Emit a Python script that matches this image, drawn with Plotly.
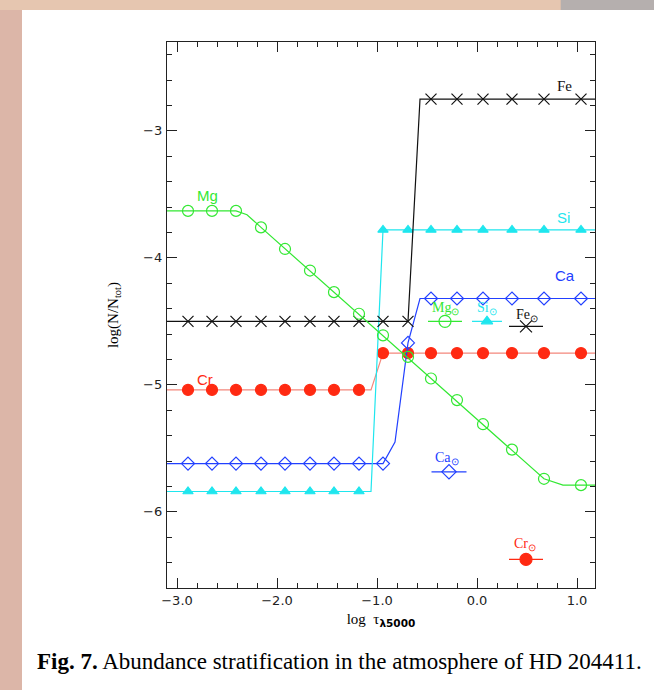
import plotly.graph_objects as go

# depth grid (log tau_5000) of plotted model points
tau = [-2.89, -2.65, -2.41, -2.16, -1.92, -1.67, -1.43, -1.18,
       -0.94, -0.69, -0.46, -0.20, 0.06, 0.35, 0.67, 1.04]

mg = [-3.63, -3.63, -3.63, -3.76, -3.93, -4.10, -4.27, -4.44,
      -4.61, -4.78, -4.95, -5.12, -5.31, -5.51, -5.74, -5.79]
fe = [-4.50, -4.50, -4.50, -4.50, -4.50, -4.50, -4.50, -4.50,
      -4.50, -4.50, -2.75, -2.75, -2.75, -2.75, -2.75, -2.75]
si = [-5.84, -5.84, -5.84, -5.84, -5.84, -5.84, -5.84, -5.84,
      -3.78, -3.78, -3.78, -3.78, -3.78, -3.78, -3.78, -3.78]
ca = [-5.62, -5.62, -5.62, -5.62, -5.62, -5.62, -5.62, -5.62,
      -5.62, -4.67, -4.32, -4.32, -4.32, -4.32, -4.32, -4.32]
cr = [-5.04, -5.04, -5.04, -5.04, -5.04, -5.04, -5.04, -5.04,
      -4.75, -4.75, -4.75, -4.75, -4.75, -4.75, -4.75, -4.75]

# continuous stratification profiles (finer model grid)
mg_line_x = [-3.3, -2.41, -2.30, -2.16, 0.67, 0.86, 1.3]
mg_line_y = [-3.63, -3.63, -3.66, -3.76, -5.74, -5.79, -5.79]
fe_line_x = [-3.3, -0.69, -0.57, 1.3]
fe_line_y = [-4.50, -4.50, -2.75, -2.75]
si_line_x = [-3.3, -1.06, -0.94, 1.3]
si_line_y = [-5.84, -5.84, -3.78, -3.78]
cr_line_x = [-3.3, -1.06, -0.94, 1.3]
cr_line_y = [-5.04, -5.04, -4.75, -4.75]
ca_line_x = [-3.3, -0.94, -0.82, -0.69, -0.57, 1.3]
ca_line_y = [-5.62, -5.62, -5.45, -4.67, -4.32, -4.32]

# solar abundances (display positions along x)
sun_names = ["Mg", "Si", "Fe", "Ca", "Cr"]
sun_x = [-0.32, 0.10, 0.49, -0.28, 0.49]
sun_y = [-4.50, -4.50, -4.54, -5.685, -6.375]
sun_half = [0.17, 0.15, 0.17, 0.175, 0.17]

GREEN = "#33e833"
CYAN = "#1fe6ee"
BLUE = "#2240ff"
RED = "#ff2a12"
RED_LINE = "#f4877c"
BLACK = "#111111"

colors = {"Mg": GREEN, "Si": CYAN, "Fe": BLACK, "Ca": BLUE, "Cr": RED}
symbols = {"Mg": "circle-open", "Si": "triangle-up", "Fe": "x-thin",
           "Ca": "diamond-open", "Cr": "circle"}
sizes = {"Mg": 11, "Si": 9, "Fe": 11, "Ca": 10, "Cr": 11}

fig = go.Figure()

def add_series(name, lx, ly, my, lcolor):
    fig.add_trace(go.Scatter(x=lx, y=ly, mode="lines",
                             line=dict(color=lcolor, width=1.2),
                             showlegend=False, hoverinfo="skip"))
    fig.add_trace(go.Scatter(x=tau, y=my, mode="markers",
                             marker=dict(symbol=symbols[name], size=sizes[name],
                                         color=colors[name],
                                         line=dict(color=colors[name], width=1.2)),
                             showlegend=False, name=name))

add_series("Cr", cr_line_x, cr_line_y, cr, RED_LINE)
add_series("Ca", ca_line_x, ca_line_y, ca, BLUE)
add_series("Si", si_line_x, si_line_y, si, CYAN)
add_series("Fe", fe_line_x, fe_line_y, fe, BLACK)
add_series("Mg", mg_line_x, mg_line_y, mg, GREEN)

# solar symbols with horizontal bars
for n, x, y, h in zip(sun_names, sun_x, sun_y, sun_half):
    fig.add_trace(go.Scatter(
        x=[x], y=[y], mode="markers",
        marker=dict(symbol=symbols[n], size=sizes[n] + 1, color=colors[n],
                    line=dict(color=colors[n], width=1.2)),
        error_x=dict(type="data", array=[h], symmetric=True, width=0,
                     thickness=1.2, color=colors[n]),
        showlegend=False))

# element labels
labels = [
    ("Mg", -2.70, -3.51, GREEN, "Liberation Sans"),
    ("Fe", 0.87, -2.65, BLACK, "Liberation Serif"),
    ("Si", 0.86, -3.68, CYAN, "Liberation Sans"),
    ("Ca", 0.88, -4.14, BLUE, "Liberation Sans"),
    ("Cr", -2.72, -4.96, RED, "Liberation Sans"),
]
for t, x, y, c, f in labels:
    fig.add_annotation(x=x, y=y, text=t, showarrow=False,
                       font=dict(family=f, size=15, color=c))

sun_label_pos = [(-0.32, -4.40), (0.10, -4.40), (0.50, -4.45), (-0.30, -5.58), (0.48, -6.26)]
for n, (x, y) in zip(sun_names, sun_label_pos):
    fig.add_annotation(x=x, y=y, text=n + "<sub>⊙</sub>", showarrow=False,
                       font=dict(family="Liberation Serif", size=14, color=colors[n]))

# page decoration
fig.add_shape(type="rect", xref="paper", yref="paper", x0=-0.4, x1=0.92,
              y0=1.0586, y1=1.1, fillcolor="#e6c6b0", line_width=0, layer="below")
fig.add_shape(type="rect", xref="paper", yref="paper", x0=0.92, x1=1.2,
              y0=1.0586, y1=1.1, fillcolor="#b5afae", line_width=0, layer="below")
fig.add_shape(type="rect", xref="paper", yref="paper", x0=-0.3388, x1=1.2,
              y0=-0.2, y1=1.0586, fillcolor="white", line_width=0, layer="below")

fig.add_annotation(xref="paper", yref="paper", x=-0.3084, y=-0.1355,
                   xanchor="left", yanchor="middle", showarrow=False,
                   text="<b>Fig. 7.</b> Abundance stratification in the atmosphere of HD 204411.",
                   font=dict(family="Liberation Serif", size=23, color="black"))

axis_common = dict(showline=True, linecolor="#222", linewidth=1.3, mirror="allticks",
                   ticks="inside", ticklen=10, tickwidth=1.2, tickcolor="#222",
                   showgrid=False, zeroline=False,
                   tickfont=dict(family="DejaVu Sans", size=13, color="#222"))

fig.update_xaxes(range=[-3.1, 1.18], tickvals=[-3, -2, -1, 0, 1], tickformat=".1f",
                 minor=dict(dtick=0.2, tick0=0, ticklen=5, ticks="inside",
                            tickcolor="#222", tickwidth=1),
                 title=dict(text="log  τ<sub><span style=\"font-family:'DejaVu Sans';font-weight:bold\">λ5000</span></sub>",
                            standoff=6,
                            font=dict(family="Liberation Serif", size=15, color="black")),
                 **axis_common)
fig.update_yaxes(range=[-6.6, -2.3], tickvals=[-6, -5, -4, -3], tickformat="d",
                 minor=dict(dtick=0.2, tick0=0, ticklen=5, ticks="inside",
                            tickcolor="#222", tickwidth=1),
                 ticklabelstandoff=1,
                 title=dict(text="log(N/N<sub>tot</sub>)", standoff=20,
                            font=dict(family="Liberation Serif", size=15, color="black")),
                 **axis_common)

fig.update_layout(width=654, height=690, autosize=False,
                  margin=dict(l=167, r=59, t=42, b=102, pad=0),
                  paper_bgcolor="#dcb6a8", plot_bgcolor="white",
                  showlegend=False)

fig.write_html("out.html")
